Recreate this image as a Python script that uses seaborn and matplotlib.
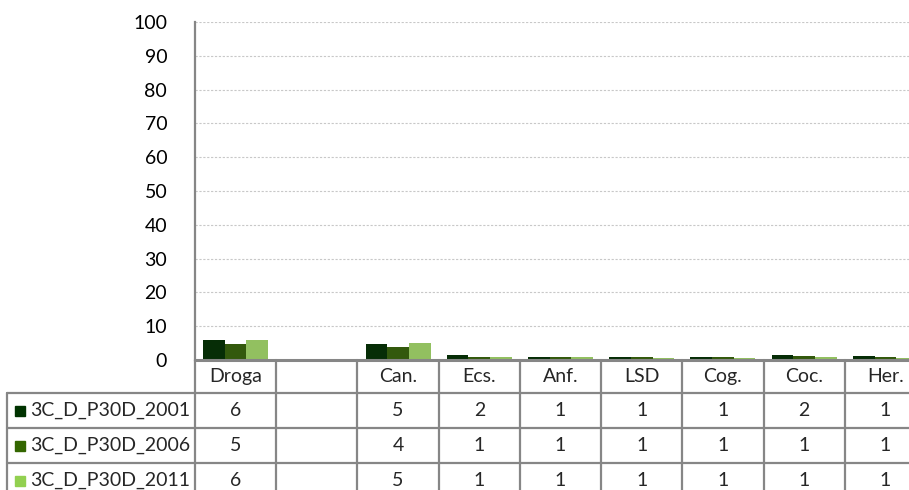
import numpy as np
import pandas as pd
import seaborn as sns
import matplotlib.pyplot as plt
from matplotlib.transforms import blended_transform_factory
from matplotlib.lines import Line2D
from matplotlib.patches import Rectangle

# Datos
categorias = ["Droga", " ", "Can.", "Ecs.", "Anf.", "LSD", "Cog.", "Coc.", "Her."]
series = ["3C_D_P30D_2001", "3C_D_P30D_2006", "3C_D_P30D_2011"]
v2001 = [5.8, np.nan, 4.6, 1.5, 0.9, 0.8, 0.8, 1.5, 1.2]
v2006 = [4.6, np.nan, 3.8, 1.0, 0.9, 0.8, 0.8, 1.2, 0.8]
v2011 = [6.0, np.nan, 5.1, 0.9, 0.8, 0.6, 0.7, 1.0, 0.6]
colores = ["#003300", "#336600", "#92D050"]

df = pd.DataFrame({
    "Categoria": categorias * 3,
    "Serie": [s for s in series for _ in categorias],
    "Valor": v2001 + v2006 + v2011,
})

sns.set_style("white")
plt.rcParams["font.family"] = ["Lato", "DejaVu Sans"]
gris = "#868686"
fs = 14

W, H = 909, 490
fig = plt.figure(figsize=(W / 100, H / 100), dpi=100)
ax = fig.add_axes([195 / W, 1 - 360 / H, (926 - 195) / W, 338 / H])

sns.barplot(data=df.dropna(), x="Categoria", y="Valor", hue="Serie",
            order=categorias, hue_order=series, palette=colores,
            width=0.8, linewidth=0, legend=False, ax=ax)

ax.set_xlim(-0.5, len(categorias) - 0.5)
ax.set_ylim(0, 100)
ax.set_yticks(range(0, 101, 10))
ax.yaxis.grid(True, color="#c8c8c8", linestyle=(0, (2, 1.5)), linewidth=0.8)
ax.set_axisbelow(True)
ax.set_xticks([])
ax.set_xlabel("")
ax.set_ylabel("")
ax.tick_params(axis="y", length=0, pad=20, labelsize=fs, labelcolor="#000000")
for lado in ["top", "right"]:
    ax.spines[lado].set_visible(False)
ax.spines["left"].set_color(gris)
ax.spines["left"].set_linewidth(1.6)
ax.spines["bottom"].set_color(gris)
ax.spines["bottom"].set_linewidth(2.2)

# Tabla de datos debajo del gráfico
fy = lambda py: 1 - py / H
fx = lambda px: px / W
tr = blended_transform_factory(ax.transData, fig.transFigure)
filas = [393, 428, 463, 498]

for i in range(len(categorias) + 1):
    fig.add_artist(Line2D([i - 0.5, i - 0.5], [fy(360), fy(500)], transform=tr,
                          color=gris, linewidth=1.6))
for py in filas[:-1]:
    fig.add_artist(Line2D([fx(7), fx(W + 20)], [fy(py), fy(py)],
                          transform=fig.transFigure, color=gris, linewidth=1.6))
fig.add_artist(Line2D([fx(7), fx(7)], [fy(393), fy(500)],
                      transform=fig.transFigure, color=gris, linewidth=1.6))

for i, cat in enumerate(categorias):
    fig.text(i, fy(376.5), cat.strip(), transform=tr, ha="center", va="center", fontsize=fs)

valores = [v2001, v2006, v2011]
for r, (serie, vals, col) in enumerate(zip(series, valores, colores)):
    yc = (filas[r] + filas[r + 1]) / 2
    fig.add_artist(Rectangle((fx(15), fy(yc + 5)), 10 / W, 10 / H,
                             transform=fig.transFigure, color=col))
    fig.text(fx(30), fy(yc), serie, ha="left", va="center", fontsize=fs)
    for i, v in enumerate(vals):
        if not np.isnan(v):
            fig.text(i, fy(yc), str(int(np.floor(v + 0.5))), transform=tr,
                     ha="center", va="center", fontsize=fs)

plt.savefig("out.png", dpi=100)
